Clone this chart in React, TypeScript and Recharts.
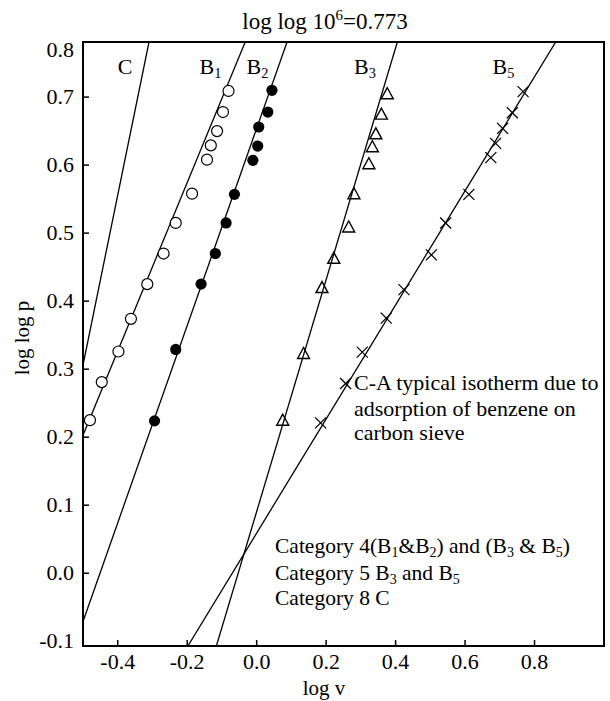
import React from "react";
import { ScatterChart, Scatter, XAxis, YAxis, ReferenceArea } from "recharts";

// ---- axis settings ----
const X_DOMAIN: [number, number] = [-0.5, 1.0];
const Y_DOMAIN: [number, number] = [-0.107, 0.781];
const X_TICKS = [-0.4, -0.2, 0, 0.2, 0.4, 0.6, 0.8];
const Y_TICKS = [-0.1, 0, 0.1, 0.2, 0.3, 0.4, 0.5, 0.6, 0.7, 0.781];

// ---- data points (log v, log log p) ----
const B1_POINTS = [
  { x: -0.081, y: 0.709 },
  { x: -0.097, y: 0.678 },
  { x: -0.114, y: 0.65 },
  { x: -0.132, y: 0.629 },
  { x: -0.143, y: 0.608 },
  { x: -0.186, y: 0.558 },
  { x: -0.233, y: 0.515 },
  { x: -0.268, y: 0.47 },
  { x: -0.315, y: 0.425 },
  { x: -0.362, y: 0.374 },
  { x: -0.398, y: 0.326 },
  { x: -0.446, y: 0.281 },
  { x: -0.48, y: 0.225 },
];
const B2_POINTS = [
  { x: 0.044, y: 0.71 },
  { x: 0.032, y: 0.678 },
  { x: 0.006, y: 0.656 },
  { x: 0.003, y: 0.628 },
  { x: -0.011, y: 0.607 },
  { x: -0.064, y: 0.557 },
  { x: -0.088, y: 0.515 },
  { x: -0.119, y: 0.47 },
  { x: -0.16, y: 0.425 },
  { x: -0.233, y: 0.329 },
  { x: -0.294, y: 0.224 },
];
const B3_POINTS = [
  { x: 0.376, y: 0.705 },
  { x: 0.359, y: 0.675 },
  { x: 0.343, y: 0.646 },
  { x: 0.333, y: 0.627 },
  { x: 0.323, y: 0.602 },
  { x: 0.28, y: 0.558 },
  { x: 0.265, y: 0.509 },
  { x: 0.222, y: 0.463 },
  { x: 0.188, y: 0.42 },
  { x: 0.135, y: 0.323 },
  { x: 0.075, y: 0.225 },
];
const B5_POINTS = [
  { x: 0.767, y: 0.708 },
  { x: 0.736, y: 0.677 },
  { x: 0.708, y: 0.654 },
  { x: 0.688, y: 0.632 },
  { x: 0.674, y: 0.611 },
  { x: 0.611, y: 0.557 },
  { x: 0.544, y: 0.515 },
  { x: 0.503, y: 0.468 },
  { x: 0.424, y: 0.417 },
  { x: 0.373, y: 0.375 },
  { x: 0.304, y: 0.325 },
  { x: 0.256, y: 0.279 },
  { x: 0.184, y: 0.221 },
];

// ---- fitted straight lines (end points on the frame) ----
const FIT_C = [
  { x: -0.5, y: 0.306 },
  { x: -0.31, y: 0.781 },
];
const FIT_B1 = [
  { x: -0.5, y: 0.203 },
  { x: -0.033, y: 0.781 },
];
const FIT_B2 = [
  { x: -0.5, y: -0.071 },
  { x: 0.0875, y: 0.781 },
];
const FIT_B3 = [
  { x: -0.116, y: -0.107 },
  { x: 0.405, y: 0.781 },
];
const FIT_B5 = [
  { x: -0.198, y: -0.107 },
  { x: 0.861, y: 0.781 },
];

// ---- layout constants ----
const W = 610;
const H = 701;
const PLOT_LEFT = 83;
const PLOT_BOTTOM = 646;
const FONT = '"Liberation Serif", "Times New Roman", serif';

const XTick = (props: any) => {
  const { x, payload } = props;
  const v = payload.value as number;
  return (
    <g>
      <line x1={x} x2={x} y1={PLOT_BOTTOM} y2={PLOT_BOTTOM - 6} stroke="#000" strokeWidth={1.5} />
      <text x={x} y={669} textAnchor="middle" fontFamily={FONT} fontSize={22} fill="#000">
        {v.toFixed(1)}
      </text>
    </g>
  );
};

const YTick = (props: any) => {
  const { y, payload } = props;
  const v = payload.value as number;
  const isTop = v > 0.75;
  const label = isTop ? "0.8" : v.toFixed(1);
  const showLine = v > -0.05 && !isTop;
  return (
    <g>
      {showLine && (
        <line x1={PLOT_LEFT} x2={PLOT_LEFT + 6} y1={y} y2={y} stroke="#000" strokeWidth={1.5} />
      )}
      <text
        x={PLOT_LEFT - 9}
        y={y + (isTop ? 8 : 0)}
        dy="0.33em"
        textAnchor="end"
        fontFamily={FONT}
        fontSize={22}
        fill="#000"
      >
        {label}
      </text>
    </g>
  );
};

const noShape = () => <g />;

const OpenCircle = (p: any) => (
  <circle cx={p.cx} cy={p.cy} r={5.5} fill="#fff" stroke="#000" strokeWidth={1.2} />
);
const FilledCircle = (p: any) => <circle cx={p.cx} cy={p.cy} r={5.6} fill="#000" />;
const Triangle = (p: any) => {
  const { cx, cy } = p;
  return (
    <polygon
      points={`${cx},${cy - 6} ${cx - 6},${cy + 5} ${cx + 6},${cy + 5}`}
      fill="none"
      stroke="#000"
      strokeWidth={1.4}
    />
  );
};
const Cross = (p: any) => {
  const { cx, cy } = p;
  const s = 5.5;
  return (
    <g stroke="#000" strokeWidth={1.3}>
      <line x1={cx - s} y1={cy - s} x2={cx + s} y2={cy + s} />
      <line x1={cx - s} y1={cy + s} x2={cx + s} y2={cy - s} />
    </g>
  );
};

type Part = string | [string, "sub" | "sup"];

const Rich = ({
  x,
  y,
  parts,
  size = 22,
  anchor = "start",
}: {
  x: number;
  y: number;
  parts: Part[];
  size?: number;
  anchor?: string;
}) => {
  let shift = 0;
  const nodes: React.ReactNode[] = [];
  parts.forEach((p, i) => {
    if (typeof p === "string") {
      nodes.push(
        <tspan key={i} dy={-shift}>
          {p}
        </tspan>
      );
      shift = 0;
    } else {
      const target = p[1] === "sub" ? 4 : -9;
      nodes.push(
        <tspan key={i} dy={target - shift} fontSize={size * 0.65}>
          {p[0]}
        </tspan>
      );
      shift = target;
    }
  });
  return (
    <text x={x} y={y} fontFamily={FONT} fontSize={size} fill="#000" textAnchor={anchor as any}>
      {nodes}
    </text>
  );
};

export default function App() {
  const lineStyle = { stroke: "#000", strokeWidth: 1.3 };
  return (
    <div style={{ position: "absolute", left: 0, top: 0, width: W, height: H, background: "#fff" }}>
      <ScatterChart width={W} height={H} margin={{ top: 42, right: 6, bottom: 0, left: 0 }}>
        <XAxis
          type="number"
          dataKey="x"
          domain={X_DOMAIN}
          ticks={X_TICKS}
          height={55}
          tick={XTick}
          tickLine={false}
          axisLine={false}
          allowDataOverflow
          interval={0}
        />
        <YAxis
          type="number"
          dataKey="y"
          domain={Y_DOMAIN}
          ticks={Y_TICKS}
          width={83}
          tick={YTick}
          tickLine={false}
          axisLine={false}
          allowDataOverflow
          interval={0}
        />
        <Scatter data={FIT_C} fill="#000" line={lineStyle} shape={noShape} isAnimationActive={false} />
        <Scatter data={FIT_B1} fill="#000" line={lineStyle} shape={noShape} isAnimationActive={false} />
        <Scatter data={FIT_B2} fill="#000" line={lineStyle} shape={noShape} isAnimationActive={false} />
        <Scatter data={FIT_B3} fill="#000" line={lineStyle} shape={noShape} isAnimationActive={false} />
        <Scatter data={FIT_B5} fill="#000" line={lineStyle} shape={noShape} isAnimationActive={false} />
        <Scatter data={B1_POINTS} fill="#fff" shape={OpenCircle} isAnimationActive={false} />
        <Scatter data={B2_POINTS} fill="#000" shape={FilledCircle} isAnimationActive={false} />
        <Scatter data={B3_POINTS} fill="none" shape={Triangle} isAnimationActive={false} />
        <Scatter data={B5_POINTS} fill="#000" shape={Cross} isAnimationActive={false} />
        <ReferenceArea
          x1={X_DOMAIN[0]}
          x2={X_DOMAIN[1]}
          y1={Y_DOMAIN[0]}
          y2={Y_DOMAIN[1]}
          fill="none"
          stroke="#000"
          strokeWidth={2}
          ifOverflow="visible"
        />
      </ScatterChart>
      <svg
        width={W}
        height={H}
        style={{ position: "absolute", left: 0, top: 0, pointerEvents: "none" }}
      >
        <Rich x={325} y={29} size={23} anchor="middle" parts={["log log 10", ["6", "sup"], "=0.773"]} />
        <Rich x={125} y={74} anchor="middle" parts={["C"]} />
        <Rich x={199.5} y={74} parts={["B", ["1", "sub"]]} />
        <Rich x={246.5} y={74} parts={["B", ["2", "sub"]]} />
        <Rich x={354} y={74} parts={["B", ["3", "sub"]]} />
        <Rich x={492.5} y={74} parts={["B", ["5", "sub"]]} />
        <Rich x={354} y={390} parts={["C-A typical isotherm due to"]} />
        <Rich x={354} y={416} parts={["adsorption of benzene on"]} />
        <Rich x={354} y={440} parts={["carbon sieve"]} />
        <Rich
          x={275}
          y={553}
          size={21.5}
          parts={[
            "Category 4(B",
            ["1", "sub"],
            "&B",
            ["2", "sub"],
            ") and (B",
            ["3", "sub"],
            " & B",
            ["5", "sub"],
            ")",
          ]}
        />
        <Rich x={275} y={580} size={21.5} parts={["Category 5 B", ["3", "sub"], " and B", ["5", "sub"]]} />
        <Rich x={275} y={605} size={21.5} parts={["Category 8 C"]} />
        <text x={324} y={695} textAnchor="middle" fontFamily={FONT} fontSize={21} fill="#000">
          log v
        </text>
        <text
          x={29}
          y={338}
          transform="rotate(-90, 29, 338)"
          textAnchor="middle"
          fontFamily={FONT}
          fontSize={21}
          fill="#000"
        >
          log log p
        </text>
      </svg>
    </div>
  );
}
